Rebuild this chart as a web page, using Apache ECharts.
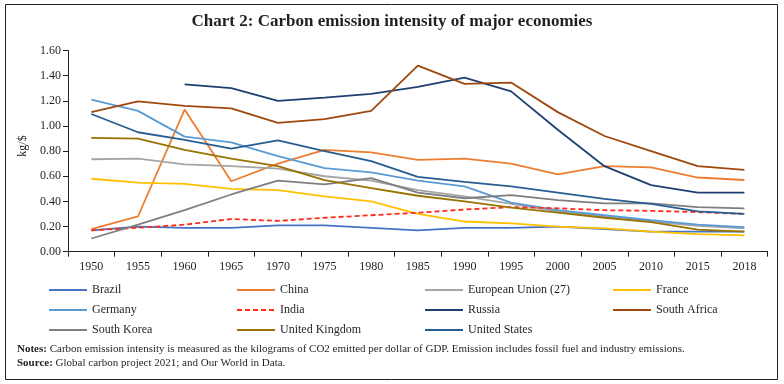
<!DOCTYPE html>
<html>
<head>
<meta charset="utf-8">
<script src="https://cdn.jsdelivr.net/npm/echarts@6/dist/echarts.min.js"></script>
<style>
html,body{margin:0;padding:0;background:#fff;}
#c{width:784px;height:384px;}
</style>
</head>
<body>
<div id="c"></div>
<script>
var years = ['1950','1955','1960','1965','1970','1975','1980','1985','1990','1995','2000','2005','2010','2015','2018'];
var yTicks = [0, 1.6, 0.2];
var brazil = [0.17,0.20,0.19,0.19,0.21,0.21,0.19,0.17,0.19,0.19,0.20,0.18,0.16,0.16,0.16];
var china = [0.18,0.28,1.13,0.56,0.70,0.81,0.79,0.73,0.74,0.70,0.615,0.68,0.67,0.59,0.57];
var eu27 = [0.735,0.74,0.695,0.68,0.66,0.60,0.565,0.49,0.44,0.38,0.32,0.28,0.24,0.205,0.185];
var france = [0.58,0.55,0.54,0.50,0.49,0.44,0.40,0.30,0.24,0.225,0.20,0.185,0.16,0.14,0.13];
var germany = [1.21,1.12,0.915,0.87,0.76,0.665,0.63,0.565,0.52,0.39,0.33,0.29,0.25,0.215,0.195];
var india = [0.17,0.19,0.215,0.26,0.245,0.27,0.29,0.31,0.335,0.355,0.345,0.33,0.325,0.315,0.30];
var russia = [null,null,1.33,1.30,1.20,1.225,1.255,1.31,1.385,1.275,0.97,0.68,0.53,0.47,0.47];
var southAfrica = [1.11,1.195,1.16,1.14,1.025,1.055,1.12,1.48,1.335,1.345,1.11,0.92,0.80,0.68,0.65];
var southKorea = [0.105,0.215,0.33,0.455,0.565,0.535,0.585,0.47,0.425,0.45,0.41,0.385,0.385,0.355,0.345];
var uk = [0.905,0.90,0.81,0.74,0.68,0.57,0.505,0.445,0.40,0.35,0.31,0.27,0.235,0.175,0.16];
var us = [1.095,0.95,0.89,0.82,0.885,0.80,0.72,0.595,0.555,0.52,0.47,0.42,0.38,0.32,0.30];

var names = ['Brazil','China','European Union (27)','France','Germany','India','Russia','South Africa','South Korea','United Kingdom','United States'];
var values = [brazil,china,eu27,france,germany,india,russia,southAfrica,southKorea,uk,us];
var colors = ['#4472C4','#ED7D31','#A5A5A5','#FFC000','#5B9BD5','#FF2A1A','#1F3F73','#9E480E','#7F7F7F','#997300','#255E91'];

var serif = '"Liberation Serif", "DejaVu Serif", serif';
var series = names.map(function(n,i){
  return {
    name: n, type: 'line', data: values[i], symbol: 'none', connectNulls: false,
    lineStyle: {color: colors[i], width: 1.8, type: n === 'India' ? [5,3] : 'solid'},
    itemStyle: {color: colors[i]}
  };
});

function leg(items, left){
  return {
    orient: 'vertical', left: left, top: 278, itemWidth: 38, itemHeight: 14, itemGap: 6,
    itemStyle: {opacity: 0},
    data: items, textStyle: {fontFamily: serif, fontSize: 12, color: '#231F20', lineHeight: 14}
  };
}

var chart = echarts.init(document.getElementById('c'));
chart.setOption({
  animation: false,
  grid: {left: 68, right: 16.3, top: 50.5, bottom: 132.3},
  xAxis: {
    type: 'category', data: years, boundaryGap: true,
    axisLine: {lineStyle: {color: '#222', width: 1}},
    axisTick: {show: true, length: 5, lineStyle: {color: '#222'}},
    axisLabel: {fontFamily: serif, fontSize: 12, color: '#231F20', margin: 9}
  },
  yAxis: {
    type: 'value', min: yTicks[0], max: yTicks[1], interval: yTicks[2],
    axisLine: {show: true, lineStyle: {color: '#222', width: 1}},
    axisTick: {show: true, length: 5, lineStyle: {color: '#222'}},
    splitLine: {show: false},
    axisLabel: {fontFamily: serif, fontSize: 12, color: '#231F20', margin: 7, formatter: function(v){return v.toFixed(2);}}
  },
  legend: [
    leg(['Brazil','Germany','South Korea'], 43),
    leg(['China','India','United Kingdom'], 231),
    leg(['European Union (27)','Russia','United States'], 419),
    leg(['France','South Africa'], 607)
  ],
  series: series,
  graphic: [
    {type: 'rect', shape: {x: 5.5, y: 4.5, width: 772, height: 375}, style: {fill: 'none', stroke: '#222', lineWidth: 1}, silent: true},
    {type: 'text', left: 'center', top: 13, style: {text: 'Chart 2: Carbon emission intensity of major economies', font: 'bold 17px ' + serif, fill: '#231F20'}},
    {type: 'text', x: 23, y: 146, rotation: Math.PI/2, style: {text: 'kg/$', font: '12px ' + serif, fill: '#231F20', textAlign: 'center', textVerticalAlign: 'middle'}},
    {type: 'text', x: 17, y: 342, style: {
      text: '{b|Notes:} Carbon emission intensity is measured as the kilograms of CO2 emitted per dollar of GDP. Emission includes fossil fuel and industry emissions.\n{b|Source:} Global carbon project 2021; and Our World in Data.',
      font: '11px ' + serif, fill: '#231F20', lineHeight: 14,
      rich: {b: {fontWeight: 'bold', fontFamily: serif, fontSize: 11}}
    }}
  ]
});
</script>
</body>
</html>
